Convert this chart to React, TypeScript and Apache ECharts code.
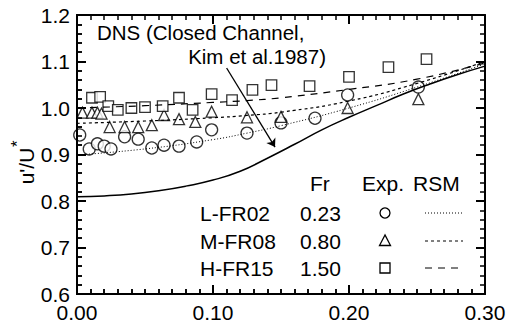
import React, { useEffect, useRef } from "react";
import * as echarts from "echarts";

// Experimental data (x = y/h position, value = u'/U*)
const lowX = [0.002, 0.009, 0.015, 0.020, 0.025, 0.035, 0.045, 0.055, 0.064, 0.075, 0.088, 0.099, 0.125, 0.150, 0.175, 0.199, 0.251, 0.301];
const lowY = [0.942, 0.912, 0.923, 0.918, 0.912, 0.938, 0.933, 0.914, 0.920, 0.918, 0.927, 0.953, 0.946, 0.968, 0.978, 1.028, 1.045, 1.071];

const midX = [0.004, 0.011, 0.015, 0.018, 0.024, 0.035, 0.045, 0.055, 0.064, 0.075, 0.087, 0.099, 0.125, 0.150, 0.199, 0.251];
const midY = [0.990, 0.990, 0.990, 0.988, 0.959, 0.959, 0.959, 0.963, 0.985, 0.976, 0.970, 0.992, 0.980, 0.981, 1.000, 1.019];

const highX = [0.011, 0.017, 0.023, 0.030, 0.040, 0.050, 0.063, 0.075, 0.085, 0.099, 0.114, 0.129, 0.143, 0.171, 0.200, 0.229, 0.257];
const highY = [1.022, 1.024, 1.004, 0.996, 1.000, 1.002, 1.004, 1.022, 0.996, 1.030, 1.017, 1.039, 1.049, 1.047, 1.067, 1.088, 1.105];

// RSM curves
const rsmX = [0, 0.05, 0.10, 0.125, 0.15, 0.20, 0.25, 0.30];
const rsmLow = [0.899, 0.912, 0.932, 0.946, 0.962, 1.000, 1.045, 1.095];
const rsmMid = [0.967, 0.972, 0.979, 0.984, 0.991, 1.015, 1.053, 1.100];
const rsmHigh = [1.000, 1.005, 1.012, 1.016, 1.022, 1.040, 1.062, 1.097];

// DNS (Kim et al. 1987)
const dnsX = [0, 0.02, 0.04, 0.06, 0.08, 0.10, 0.12, 0.14, 0.16, 0.18, 0.20, 0.22, 0.24, 0.26, 0.28, 0.30];
const dnsY = [0.809, 0.811, 0.815, 0.822, 0.832, 0.845, 0.864, 0.892, 0.922, 0.953, 0.980, 1.005, 1.030, 1.052, 1.072, 1.090];

const arrowFrom = [0.110, 1.086];
const arrowTo = [0.1456, 0.916];

const cases = ["L-FR02", "M-FR08", "H-FR15"];
const froude = ["0.23", "0.80", "1.50"];

const pairs = (xs: number[], ys: number[]) => xs.map((x, i) => [x, ys[i]]);

const FONT = "Liberation Sans";
const GRID = { left: 77, right: 36, top: 15, bottom: 37 };

function fmt(digits: number) {
  return (v: any) => {
    const raw = v != null && typeof v === "object" ? (v as any).value : v;
    const n = typeof raw === "number" ? raw : parseFloat(String(raw));
    return isFinite(n) ? n.toFixed(digits) : String(raw ?? "");
  };
}

function makeAxis(isX: boolean, position: string, showLabel: boolean) {
  return {
    type: "value",
    min: isX ? 0 : 0.6,
    max: isX ? 0.3 : 1.2,
    interval: 0.1,
    position,
    axisLine: { show: true, onZero: false, lineStyle: { color: "#000", width: 2 } },
    axisTick: { show: true, inside: true, length: 9, lineStyle: { color: "#000", width: 2 } },
    minorTick: { show: true, splitNumber: isX ? 10 : 5, length: 5, lineStyle: { color: "#000", width: 1.5 } },
    splitLine: { show: false },
    minorSplitLine: { show: false },
    axisLabel: showLabel
      ? { show: true, color: "#000", fontFamily: FONT, fontSize: 21, margin: isX ? 8 : 7, formatter: fmt(isX ? 2 : 1) }
      : { show: false },
  } as any;
}

export default function App() {
  const ref = useRef<HTMLDivElement>(null);
  const axRef = useRef<HTMLDivElement>(null);
  useEffect(() => {
    if (!ref.current || !axRef.current) return;
    const chart = echarts.init(ref.current, null, { renderer: "svg" });
    const axes = echarts.init(axRef.current, null, { renderer: "svg" });
    const textBase = { fontFamily: FONT, fontSize: 21, fill: "#000" };
    const rowY = [213, 241, 268];
    const graphic: any[] = [
      { type: "text", left: 97, top: 22, style: { ...textBase, fontSize: 20.5, text: "DNS (Closed Channel," } },
      { type: "text", right: 521 - 326, top: 46, style: { ...textBase, fontSize: 20.5, text: "Kim et al.1987)" } },
      { type: "text", x: 310, y: 183, style: { ...textBase, text: "Fr", textVerticalAlign: "middle" } },
      { type: "text", x: 362, y: 183, style: { ...textBase, text: "Exp.", textVerticalAlign: "middle" } },
      { type: "text", x: 413, y: 183, style: { ...textBase, text: "RSM", textVerticalAlign: "middle" } },
      {
        type: "group",
        x: 26,
        y: 166,
        rotation: Math.PI / 2,
        children: [
          { type: "text", x: 0, y: 0, style: { ...textBase, text: "u'/U", textAlign: "center", textVerticalAlign: "middle" } },
          { type: "text", x: 19, y: -9, style: { ...textBase, fontSize: 17, text: "*", textAlign: "left", textVerticalAlign: "middle" } },
        ],
      },
    ];
    cases.forEach((c, i) => {
      graphic.push({ type: "text", x: 200, y: rowY[i], style: { ...textBase, text: c, textVerticalAlign: "middle" } });
      graphic.push({ type: "text", x: 300, y: rowY[i], style: { ...textBase, text: froude[i], textVerticalAlign: "middle" } });
    });
    const stroke = { fill: "none", stroke: "#000", lineWidth: 1.3 };
    graphic.push({ type: "circle", shape: { cx: 385, cy: rowY[0], r: 5 }, style: stroke });
    graphic.push({ type: "polygon", shape: { points: [[385, rowY[1] - 6], [379.5, rowY[1] + 4.5], [390.5, rowY[1] + 4.5]] }, style: stroke });
    graphic.push({ type: "rect", shape: { x: 380, y: rowY[2] - 5, width: 10, height: 10 }, style: stroke });
    const dashes = [[1, 2], [3, 3], [7, 6]];
    dashes.forEach((d, i) => {
      graphic.push({ type: "line", shape: { x1: 425, y1: rowY[i], x2: 463, y2: rowY[i] }, style: { stroke: "#000", lineWidth: 1, lineDash: d } });
    });

    const scatterStyle = { color: "#fff", borderColor: "#000", borderWidth: 1.3 };
    chart.setOption({
      animation: false,
      grid: GRID,
      xAxis: [makeAxis(true, "bottom", false)],
      yAxis: [makeAxis(false, "left", false)],
      series: [
        { type: "scatter", data: pairs(lowX, lowY), symbol: "circle", symbolSize: 12, itemStyle: scatterStyle, z: 3 },
        { type: "scatter", data: pairs(midX, midY), symbol: "triangle", symbolSize: 11, itemStyle: scatterStyle, z: 3 },
        { type: "scatter", data: pairs(highX, highY), symbol: "rect", symbolSize: 10.5, itemStyle: scatterStyle, z: 3 },
        {
          type: "line", data: pairs(rsmX, rsmLow), smooth: true, showSymbol: false, z: 4,
          lineStyle: { color: "#000", width: 1, type: [1, 2] },
        },
        {
          type: "line", data: pairs(rsmX, rsmMid), smooth: true, showSymbol: false, z: 4,
          lineStyle: { color: "#000", width: 1.2, type: [3, 3] },
        },
        {
          type: "line", data: pairs(rsmX, rsmHigh), smooth: true, showSymbol: false, z: 4,
          lineStyle: { color: "#000", width: 1.2, type: [7, 6] },
        },
        {
          type: "line", data: pairs(dnsX, dnsY), smooth: true, showSymbol: false, z: 4,
          lineStyle: { color: "#000", width: 1.5 },
          markLine: {
            silent: true,
            symbol: ["none", "arrow"],
            symbolSize: 8,
            label: { show: false },
            lineStyle: { color: "#000", width: 1.3, type: "solid" },
            data: [[{ coord: arrowFrom }, { coord: arrowTo }]],
          },
        },
      ],
      graphic,
    });

    // Frame with labelled axes and mirrored inward ticks on all four sides
    axes.setOption({
      animation: false,
      grid: GRID,
      xAxis: [makeAxis(true, "bottom", true), makeAxis(true, "top", false)],
      yAxis: [makeAxis(false, "left", true), makeAxis(false, "right", false)],
      series: [],
    });
    return () => {
      axes.dispose();
      chart.dispose();
    };
  }, []);
  return (
    <div style={{ position: "fixed", left: 0, top: 0, width: 521, height: 331, background: "#fff" }}>
      <div ref={ref} style={{ position: "absolute", left: 0, top: 0, width: 521, height: 331 }} />
      <div ref={axRef} style={{ position: "absolute", left: 0, top: 0, width: 521, height: 331, pointerEvents: "none" }} />
    </div>
  );
}
